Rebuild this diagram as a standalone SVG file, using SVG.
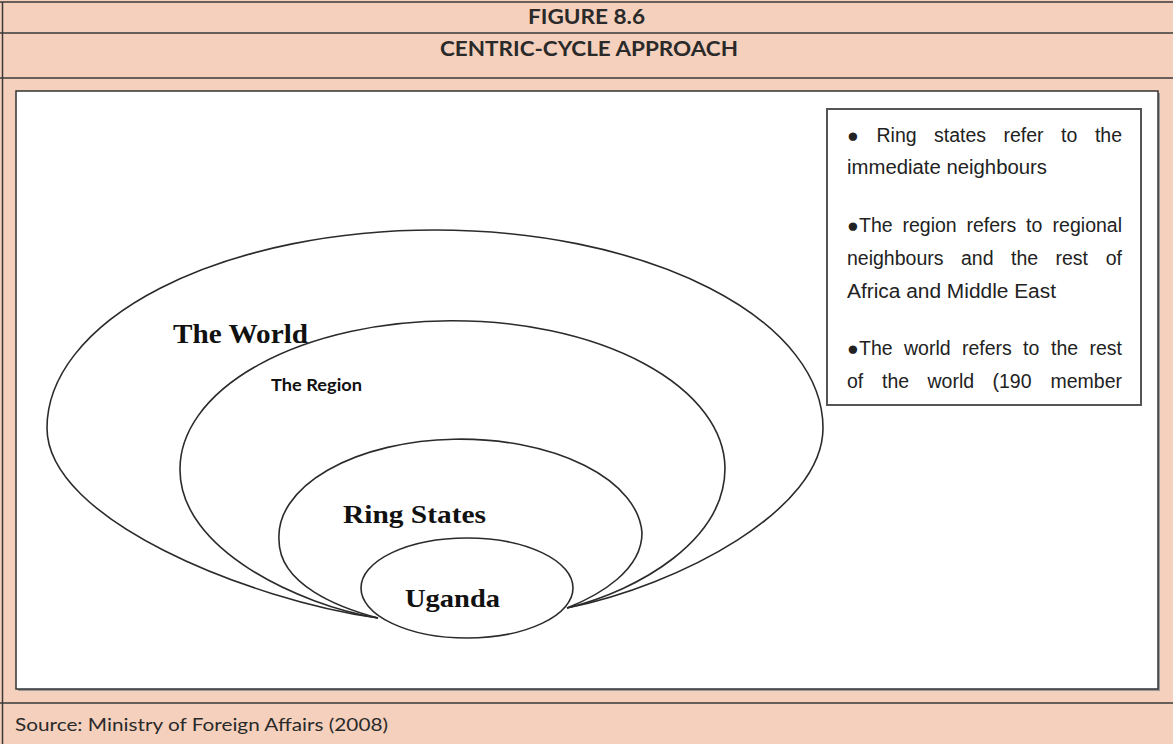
<svg xmlns="http://www.w3.org/2000/svg" width="1173" height="744" viewBox="0 0 1173 744">
  <style>
    .rule { stroke: #3a3a3a; stroke-width: 1.5; fill: none; }
    .ring { fill: none; stroke: #2b2b2b; stroke-width: 1.6; }
    .head { font-family: Lato, "Open Sans", sans-serif; font-weight: 700; font-size: 20px; fill: #2a2a2a; }
    .src { font-family: Lato, "Open Sans", sans-serif; font-size: 18px; fill: #2a2a2a; }
    .serif { font-family: "Liberation Serif", "DejaVu Serif", serif; font-weight: 700; fill: #111; }
    .note { font-family: "Liberation Sans", Arial, sans-serif; font-size: 19.5px; fill: #222; }
    .end { text-anchor: end; }
  </style>

  <!-- page panel -->
  <rect x="0" y="0" width="1173" height="744" fill="#f5d0bc"/>
  <line class="rule" x1="0" y1="2" x2="1173" y2="2"/>
  <line class="rule" x1="2.5" y1="2" x2="2.5" y2="744"/>
  <line class="rule" x1="0" y1="33" x2="1173" y2="33"/>
  <line class="rule" x1="0" y1="78" x2="1173" y2="78"/>
  <line class="rule" x1="0" y1="703" x2="1173" y2="703"/>

  <text class="head" x="528" y="24" textLength="117" lengthAdjust="spacingAndGlyphs">FIGURE 8.6</text>
  <text class="head" x="440" y="56" textLength="298" lengthAdjust="spacingAndGlyphs">CENTRIC-CYCLE APPROACH</text>
  <text class="src" x="15" y="731" textLength="373" lengthAdjust="spacingAndGlyphs">Source: Ministry of Foreign Affairs (2008)</text>

  <!-- drawing area with soft shadow -->
  <rect x="18" y="93" width="1142" height="598" fill="#9a9a9a"/>
  <rect x="16" y="91" width="1142" height="598" fill="#ffffff" stroke="#333" stroke-width="1.5"/>

  <!-- concentric rings, converging at the base of the Uganda ellipse -->
  <g id="connectors">
    <path id="ring-world" class="ring" d="M378,618 C250,600 47,520 47,428 A388,198 0 0 1 823,428 C823,510 680,585 567,608"/>
    <path id="ring-region" class="ring" d="M378,618 C300,605 180,550 180,470 A272,148 0 0 1 725,468 C725,540 640,590 567,608"/>
    <path id="ring-states" class="ring" d="M378,618 C340,608 279,585 279,540 A181,97 0 0 1 642,533 C642,570 600,595 567,608"/>
  </g>

  <g id="node-world">
    <text class="serif" x="173" y="343" font-size="28" textLength="135" lengthAdjust="spacingAndGlyphs">The World</text>
  </g>
  <g id="node-region">
    <text x="271" y="391" font-family="Lato, 'Open Sans', sans-serif" font-weight="700" font-size="17" fill="#111" textLength="91" lengthAdjust="spacingAndGlyphs">The Region</text>
  </g>
  <g id="node-ring-states">
    <text class="serif" x="343" y="523" font-size="26" textLength="143" lengthAdjust="spacingAndGlyphs">Ring States</text>
  </g>
  <g id="node-uganda">
    <ellipse cx="467" cy="588" rx="106" ry="50" fill="#ffffff" stroke="#2b2b2b" stroke-width="1.6"/>
    <text class="serif" x="405" y="607" font-size="26" textLength="95" lengthAdjust="spacingAndGlyphs">Uganda</text>
  </g>

  <!-- legend: justified lines, words spread evenly, last word flush right -->
  <g id="legend">
    <rect x="827" y="109" width="314" height="296" fill="#ffffff" stroke="#555" stroke-width="2"/>
    <text class="note" y="142"><tspan x="847">●</tspan><tspan x="876.5">Ring</tspan><tspan x="934">states</tspan><tspan x="1003.5">refer</tspan><tspan x="1061">to</tspan></text>
    <text class="note end" x="1122" y="142">the</text>
    <text class="note" x="847" y="174" textLength="200" lengthAdjust="spacingAndGlyphs">immediate neighbours</text>
    <text class="note" y="232"><tspan x="847">●</tspan><tspan x="859">The</tspan><tspan x="902.5">region</tspan><tspan x="966.5">refers</tspan><tspan x="1026">to</tspan></text>
    <text class="note end" x="1122" y="232">regional</text>
    <text class="note" y="265"><tspan x="847">neighbours</tspan><tspan x="961">and</tspan><tspan x="1011">the</tspan><tspan x="1055.5">rest</tspan></text>
    <text class="note end" x="1122" y="265">of</text>
    <text class="note" x="847" y="298" textLength="209" lengthAdjust="spacingAndGlyphs">Africa and Middle East</text>
    <text class="note" y="355"><tspan x="847">●</tspan><tspan x="859">The</tspan><tspan x="904">world</tspan><tspan x="962">refers</tspan><tspan x="1023">to</tspan><tspan x="1051">the</tspan></text>
    <text class="note end" x="1122" y="355">rest</text>
    <text class="note" y="388"><tspan x="847">of</tspan><tspan x="882">the</tspan><tspan x="927.5">world</tspan><tspan x="992.5">(190</tspan></text>
    <text class="note end" x="1122" y="388">member</text>
  </g>
</svg>
